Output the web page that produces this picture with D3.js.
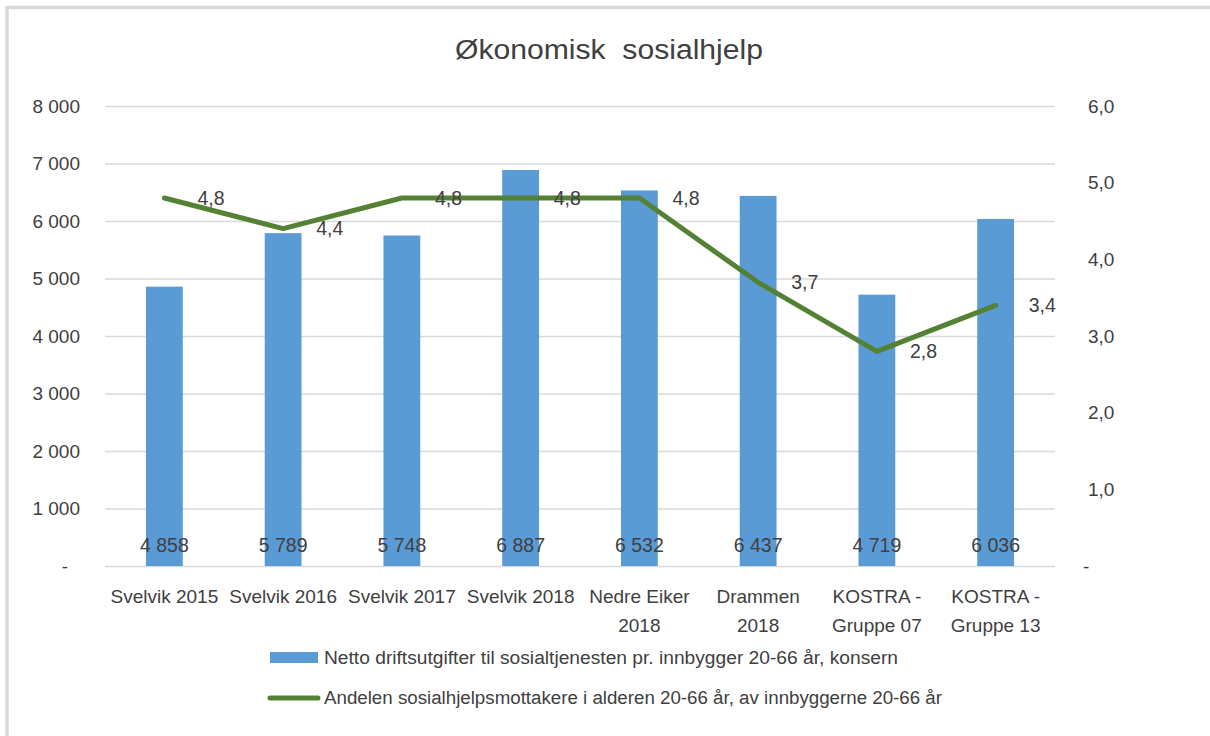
<!DOCTYPE html>
<html>
<head>
<meta charset="utf-8">
<script src="https://cdn.jsdelivr.net/npm/d3@7"></script>
<style>
  body { margin: 0; background: #fff; }
  text { font-family: "Liberation Sans", Arial, sans-serif; fill: #404040; }
</style>
</head>
<body>
<div id="chart-area"></div>
<script>
// data
var categories = [
  ["Svelvik 2015"], ["Svelvik 2016"], ["Svelvik 2017"], ["Svelvik 2018"],
  ["Nedre Eiker", "2018"], ["Drammen", "2018"], ["KOSTRA -", "Gruppe 07"], ["KOSTRA -", "Gruppe 13"]
];
var netto = [4858, 5789, 5748, 6887, 6532, 6437, 4719, 6036];
var andel = [4.8, 4.4, 4.8, 4.8, 4.8, 3.7, 2.8, 3.4];
var leftTicks = [0, 1000, 2000, 3000, 4000, 5000, 6000, 7000, 8000];
var rightTicks = [0, 1, 2, 3, 4, 5, 6];
var legendLabels = [
  "Netto driftsutgifter til sosialtjenesten pr. innbygger 20-66 år, konsern",
  "Andelen sosialhjelpsmottakere i alderen 20-66 år, av innbyggerne 20-66 år"
];

var W = 1210, H = 736;
var margin = { left: 105, right: 155, top: 106, bottom: 170 };
var width = W - margin.left - margin.right;   // 950
var height = H - margin.top - margin.bottom;  // 460

var svg = d3.select("#chart-area").append("svg")
  .attr("width", W).attr("height", H);

// outer frame
svg.append("rect")
  .attr("x", 7).attr("y", 7.5)
  .attr("width", 1230).attr("height", 760)
  .attr("fill", "none").attr("stroke", "#d9d9d9").attr("stroke-width", 3.5);

// title (double space kept like the original)
svg.append("text")
  .attr("x", 609).attr("y", 59)
  .attr("text-anchor", "middle")
  .attr("font-size", "27px")
  .style("white-space", "pre")
  .attr("textLength", 308).attr("lengthAdjust", "spacingAndGlyphs")
  .text("Økonomisk  sosialhjelp");

var g = svg.append("g")
  .attr("transform", "translate(" + margin.left + "," + margin.top + ")");

var x = d3.scaleBand()
  .domain(d3.range(categories.length))
  .range([0, width]);

var y = d3.scaleLinear().domain([0, 8000]).range([height, 0]);
var y2 = d3.scaleLinear().domain([0, 6]).range([height, 0]);

var fmtThousand = function(d) {
  return d === 0 ? "-" : d3.format(",")(d).replace(/,/g, " ");
};
var fmtComma = function(d) {
  return d === 0 ? "-" : d3.format(".1f")(d).replace(".", ",");
};

// left axis with grid
var yAxisGroup = g.append("g")
  .call(d3.axisLeft(y).tickValues(leftTicks).tickSize(-width).tickPadding(25).tickFormat(fmtThousand));
yAxisGroup.select(".domain").remove();
yAxisGroup.selectAll("line").attr("stroke", "#d9d9d9").attr("stroke-width", 1.3);
yAxisGroup.selectAll("text").attr("font-size", "19px").attr("fill", "#404040");
yAxisGroup.selectAll(".tick").filter(function(d){ return d === 0; })
  .select("text").attr("x", -37);

// right axis
var y2AxisGroup = g.append("g")
  .attr("transform", "translate(" + width + ",0)")
  .call(d3.axisRight(y2).tickValues(rightTicks).tickSize(0).tickPadding(33).tickFormat(fmtComma));
y2AxisGroup.select(".domain").remove();
y2AxisGroup.selectAll("text").attr("font-size", "19px").attr("fill", "#404040");
y2AxisGroup.selectAll(".tick").filter(function(d){ return d === 0; })
  .select("text").attr("x", 28);

// bars
var barW = x.bandwidth() * 0.31;
g.selectAll("rect.bar")
  .data(netto)
  .enter().append("rect")
    .attr("class", "bar")
    .attr("x", function(d, i){ return x(i) + x.bandwidth() / 2 - barW / 2; })
    .attr("y", function(d){ return y(d); })
    .attr("width", barW)
    .attr("height", function(d){ return height - y(d); })
    .attr("fill", "#5b9bd5");

// bar value labels
g.selectAll("text.barlabel")
  .data(netto)
  .enter().append("text")
    .attr("class", "barlabel")
    .attr("x", function(d, i){ return x(i) + x.bandwidth() / 2; })
    .attr("y", height - 14)
    .attr("text-anchor", "middle")
    .attr("font-size", "19.5px")
    .text(fmtThousand);

// line
var line = d3.line()
  .x(function(d, i){ return x(i) + x.bandwidth() / 2; })
  .y(function(d){ return y2(d); });

g.append("path")
  .datum(andel)
  .attr("d", line)
  .attr("fill", "none")
  .attr("stroke", "#548235")
  .attr("stroke-width", 5)
  .attr("stroke-linejoin", "round")
  .attr("stroke-linecap", "round");

g.selectAll("text.linelabel")
  .data(andel)
  .enter().append("text")
    .attr("class", "linelabel")
    .attr("x", function(d, i){ return x(i) + x.bandwidth() / 2 + 33; })
    .attr("y", function(d){ return y2(d); })
    .attr("dy", "0.35em")
    .attr("font-size", "19.5px")
    .text(function(d){ return fmtComma(d); });

// category labels
var catG = g.selectAll("text.cat")
  .data(categories)
  .enter().append("text")
    .attr("class", "cat")
    .attr("text-anchor", "middle")
    .attr("font-size", "19px");
catG.selectAll("tspan")
  .data(function(d, i){ return d.map(function(s){ return { s: s, i: i }; }); })
  .enter().append("tspan")
    .attr("x", function(d){ return x(d.i) + x.bandwidth() / 2; })
    .attr("y", function(d, j){ return height + 37 + j * 29; })
    .text(function(d){ return d.s; });

// legend
var leg = svg.append("g");
leg.append("rect")
  .attr("x", 270).attr("y", 652).attr("width", 48).attr("height", 11)
  .attr("fill", "#5b9bd5");
leg.append("text")
  .attr("x", 324).attr("y", 664)
  .attr("font-size", "18px")
  .attr("textLength", 574).attr("lengthAdjust", "spacingAndGlyphs")
  .text(legendLabels[0]);
leg.append("line")
  .attr("x1", 270).attr("x2", 318).attr("y1", 698).attr("y2", 698)
  .attr("stroke", "#548235").attr("stroke-width", 5).attr("stroke-linecap", "round");
leg.append("text")
  .attr("x", 324).attr("y", 704)
  .attr("font-size", "18px")
  .attr("textLength", 618).attr("lengthAdjust", "spacingAndGlyphs")
  .text(legendLabels[1]);
</script>
</body>
</html>
